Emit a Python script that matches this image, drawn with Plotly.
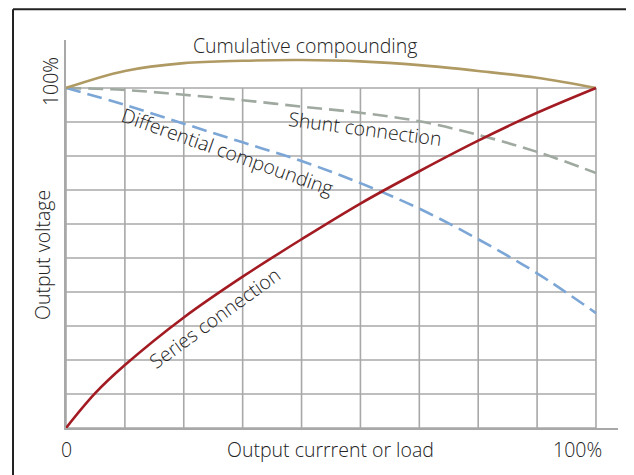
import plotly.graph_objects as go

# --- Data (grid units: x 0..9 = 0..100% load, y 0..10 = 0..100% voltage) ---
load = [0, 1, 2, 3, 4, 5, 6, 7, 8, 9]

cumulative = [10.0, 10.5, 10.73, 10.8, 10.82, 10.78, 10.67, 10.5, 10.3, 10.0]
shunt      = [10.0, 9.94, 9.8, 9.64, 9.45, 9.27, 9.02, 8.62, 8.12, 7.5]
differential = [10.0, 9.5, 8.95, 8.4, 7.85, 7.2, 6.45, 5.55, 4.55, 3.38]
series_x   = [0, 0.5, 1, 2, 3, 4, 5, 6, 7, 8, 9]
series     = [0, 1.03, 1.85, 3.25, 4.45, 5.55, 6.6, 7.55, 8.45, 9.27, 10.0]

x_ticks = ["0", "100%"]
y_ticks = ["100%"]

FONT = "Open Sans"
TXT = "#222222"
GRID = "#a8a8a8"

fig = go.Figure()

# grid, limited to the 9 x 10 box
grid = []
for gx in range(0, 10):
    grid.append(dict(type="line", xref="x", yref="y", x0=gx, x1=gx, y0=0, y1=10,
                     line=dict(color=GRID, width=1.6), layer="below"))
for gy in range(0, 11):
    grid.append(dict(type="line", xref="x", yref="y", x0=0, x1=9, y0=gy, y1=gy,
                     line=dict(color=GRID, width=1.6), layer="below"))

# outer frame (top and left edges)
frame = [
    dict(type="line", xref="paper", yref="paper", x0=-0.096, x1=1.05, y0=1.079, y1=1.079,
         line=dict(color="#222222", width=2)),
    dict(type="line", xref="paper", yref="paper", x0=-0.096, x1=-0.096, y0=1.079, y1=-0.2,
         line=dict(color="#222222", width=2)),
]

fig.add_trace(go.Scatter(x=load, y=shunt, mode="lines", line_shape="spline",
                         line=dict(color="#9fa9a0", width=2.6, dash="15px,7px")))
fig.add_trace(go.Scatter(x=load, y=differential, mode="lines", line_shape="spline",
                         line=dict(color="#7ba6d6", width=2.6, dash="15px,7px")))
fig.add_trace(go.Scatter(x=load, y=cumulative, mode="lines", line_shape="spline",
                         line=dict(color="#b09a63", width=2.6)))
fig.add_trace(go.Scatter(x=series_x, y=series, mode="lines", line_shape="spline",
                         line=dict(color="#a31b22", width=2.6)))

def label(text, x, y, angle=0, ref="", size=19.5):
    return dict(text=text, x=x, y=y, xref=ref or "x", yref=ref or "y", showarrow=False,
                textangle=angle, xanchor="center", yanchor="middle",
                font=dict(family=FONT, size=size, color=TXT, weight=300))

notes = [
    label("Cumulative compounding", 4.06, 11.24),
    label("Shunt connection", 5.08, 8.82, 7.6),
    label("Differential compounding", 2.75, 8.12, 19.6),
    label("Series connection", 2.53, 3.24, -36),
    label("Output voltage", -0.0417, 0.446, -90, "paper"),
    label(y_ticks[0], -0.029, 0.894, -90, "paper"),
    label(x_ticks[0], 0, -0.0567, 0, "paper"),
    label("Output currrent or load", 0.48, -0.0567, 0, "paper"),
    label(x_ticks[1], 0.9275, -0.0567, 0, "paper"),
]

fig.update_xaxes(range=[0, 9.374], showgrid=False, zeroline=False, showticklabels=False,
                 showline=True, linecolor=GRID, linewidth=1.6, ticks="")
fig.update_yaxes(range=[0, 11.41], showgrid=False, zeroline=False, showticklabels=False,
                 showline=True, linecolor=GRID, linewidth=1.6, ticks="")

fig.update_layout(
    width=634, height=475,
    margin=dict(l=58, r=24, t=32, b=55),
    paper_bgcolor="white", plot_bgcolor="white",
    showlegend=False,
    shapes=grid + frame,
    annotations=notes,
)

fig.write_html("out.html")
